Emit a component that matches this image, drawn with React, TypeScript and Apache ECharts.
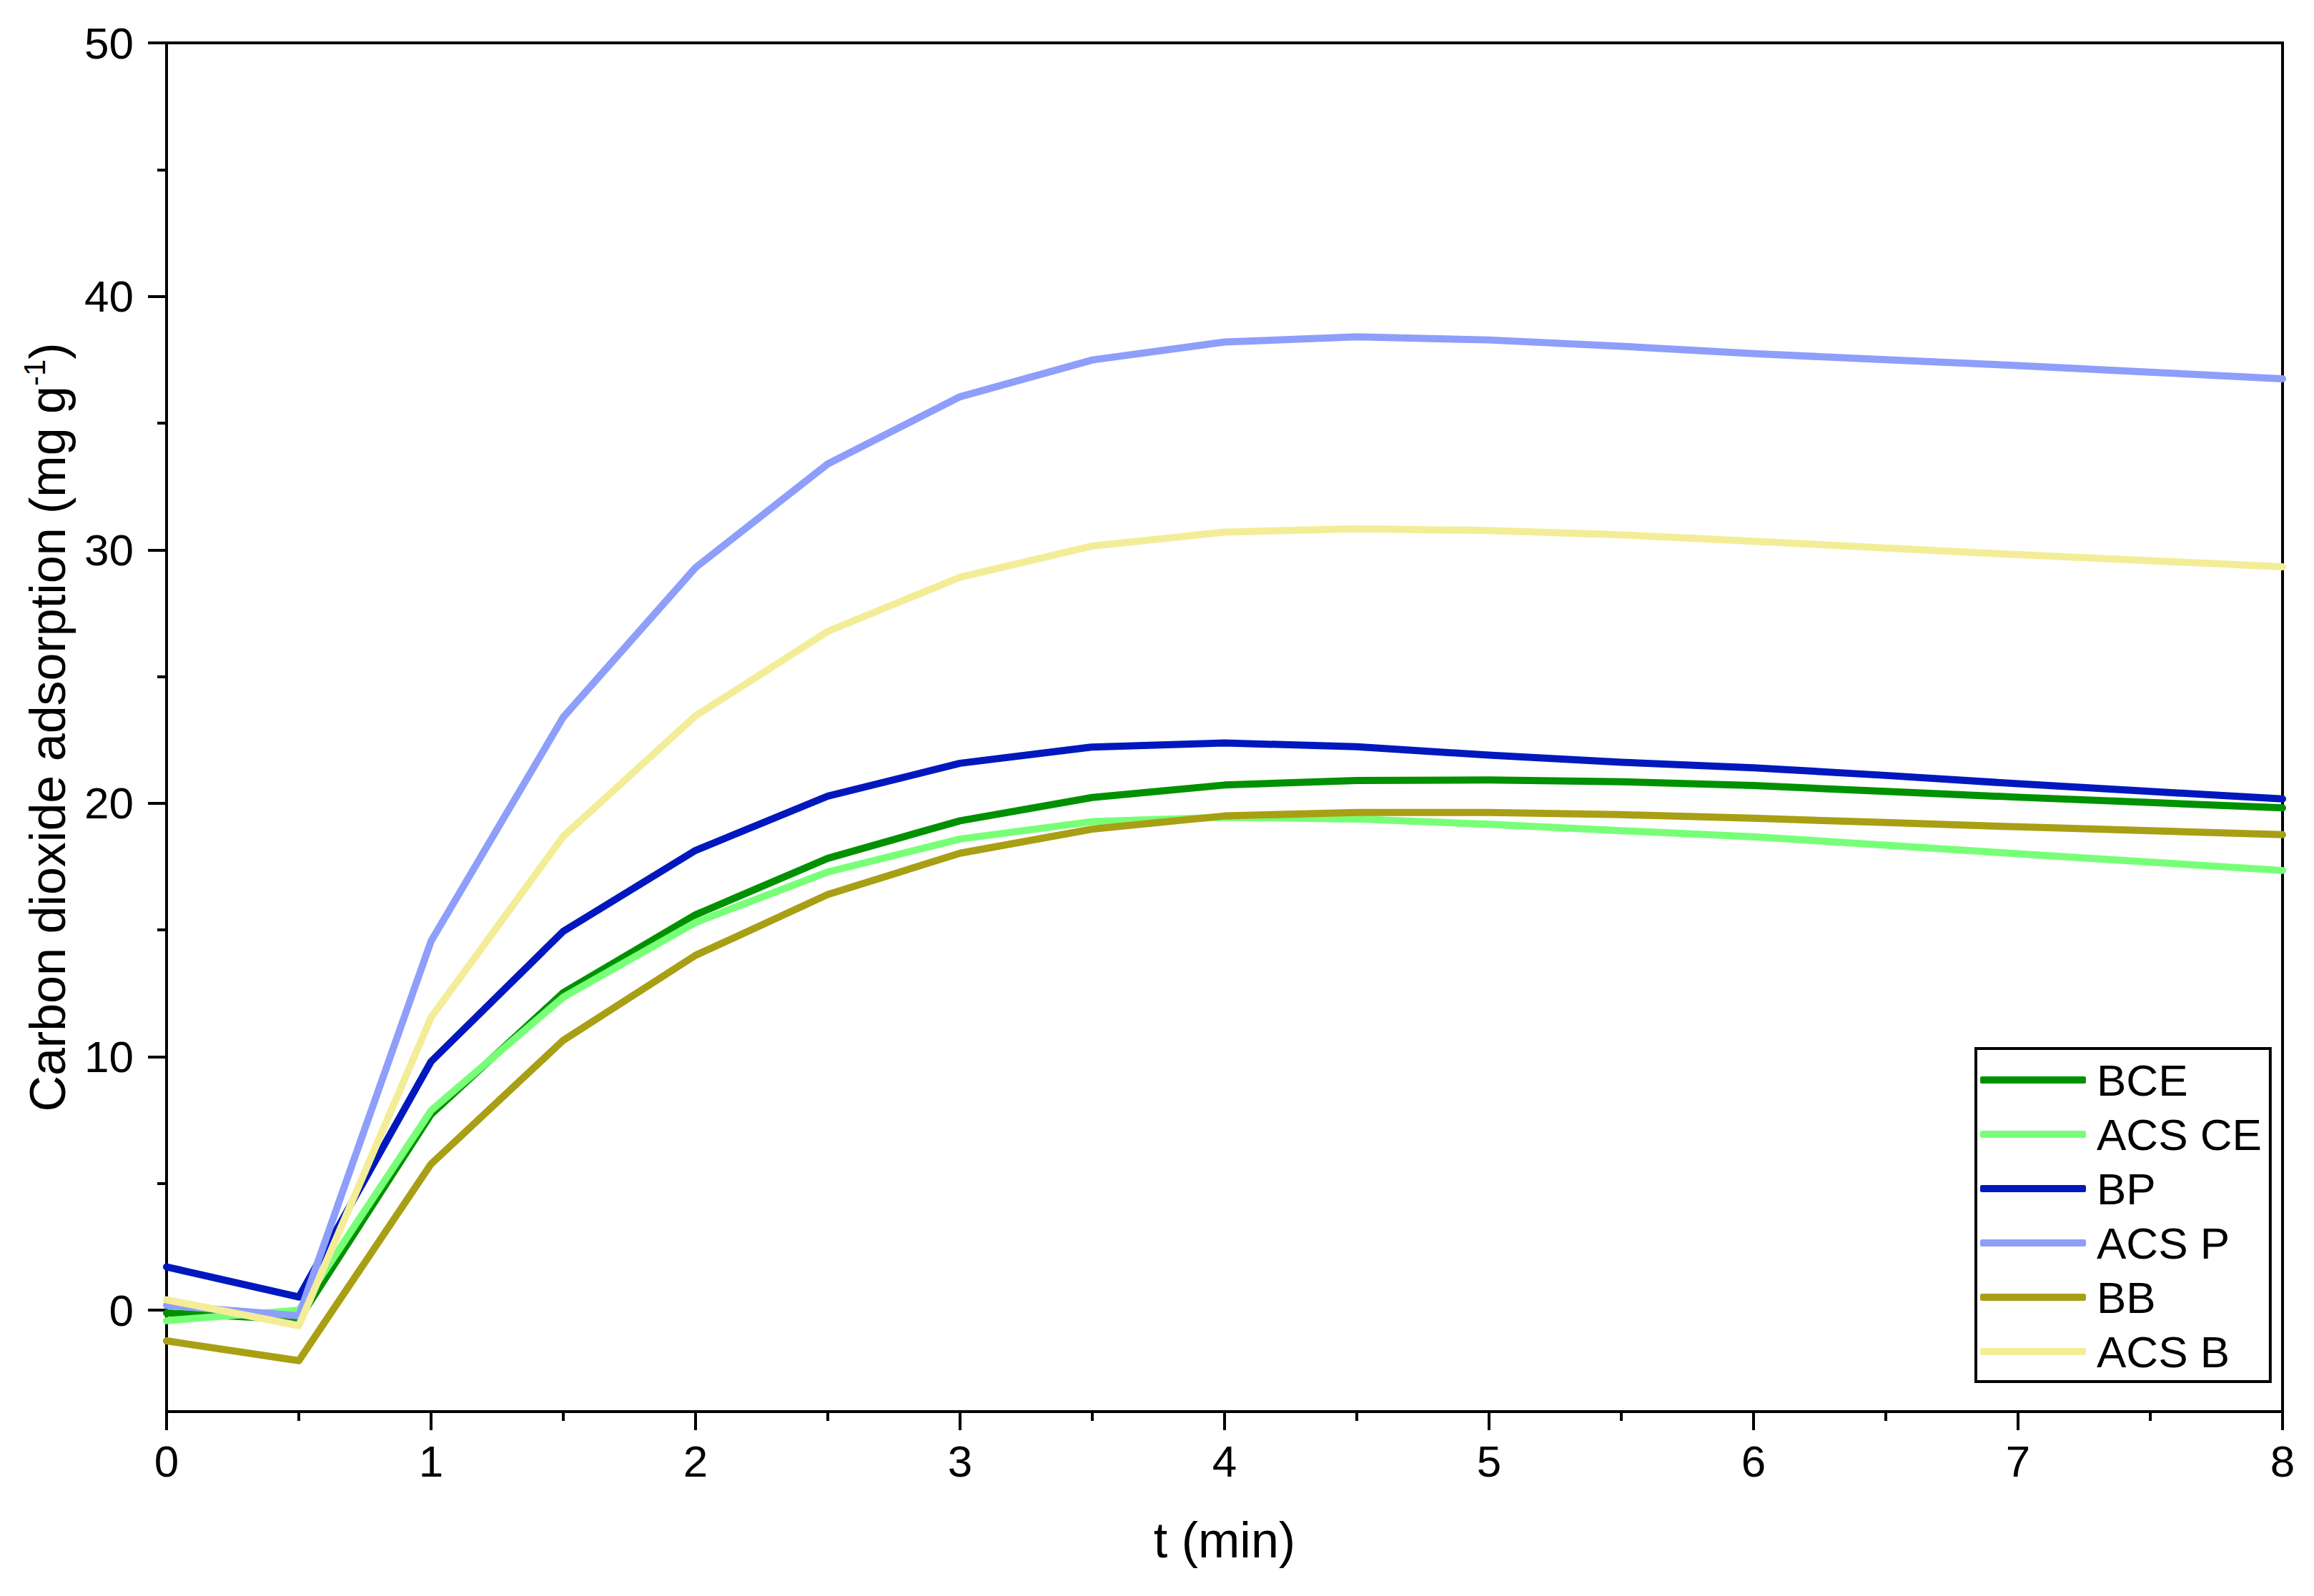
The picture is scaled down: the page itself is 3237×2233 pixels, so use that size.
import React, { useEffect, useRef } from "react";
import * as echarts from "echarts";

const tValues = [0, 0.5, 1, 1.5, 2, 2.5, 3, 3.5, 4, 4.5, 5, 5.5, 6, 6.5, 7, 7.5, 8];

const seriesNames = ["BCE", "ACS CE", "BP", "ACS P", "BB", "ACS B"];
const seriesColors = ["#009100", "#78FF78", "#0018BE", "#8E9EFB", "#A89F14", "#F3ED98"];

const bce = [-0.11, -0.37, 7.73, 12.53, 15.6, 17.83, 19.31, 20.23, 20.72, 20.9, 20.92, 20.85, 20.7, 20.47, 20.24, 20.03, 19.82];
const acsCe = [-0.41, 0.0, 7.88, 12.35, 15.3, 17.29, 18.59, 19.28, 19.45, 19.38, 19.17, 18.92, 18.68, 18.35, 18.01, 17.68, 17.35];
const bp = [1.71, 0.52, 9.81, 14.95, 18.14, 20.28, 21.58, 22.22, 22.38, 22.23, 21.9, 21.62, 21.4, 21.1, 20.77, 20.47, 20.17];
const acsP = [0.19, -0.22, 14.56, 23.4, 29.3, 33.39, 36.04, 37.49, 38.2, 38.4, 38.28, 38.03, 37.74, 37.5, 37.27, 37.01, 36.75];
const bb = [-1.21, -1.99, 5.77, 10.65, 14.0, 16.4, 18.03, 18.98, 19.5, 19.64, 19.64, 19.55, 19.41, 19.24, 19.07, 18.92, 18.76];
const acsB = [0.41, -0.61, 11.55, 18.7, 23.45, 26.78, 28.92, 30.15, 30.7, 30.83, 30.76, 30.59, 30.34, 30.07, 29.81, 29.57, 29.33];

const seriesValues = [bce, acsCe, bp, acsP, bb, acsB];

const yMajorTicks = [0, 10, 20, 30, 40, 50];
const yMinorTicks = [5, 15, 25, 35, 45];

const FONT = "Liberation Sans, Arial, sans-serif";

export default function App() {
  const ref = useRef<HTMLDivElement>(null);

  useEffect(() => {
    if (!ref.current) return;
    const chart = echarts.init(ref.current, null, { renderer: "svg" });
    const axisLineStyle = { color: "#000", width: 4 };
    const option = {
      animation: false,
      backgroundColor: "#fff",
      grid: {
        left: 233,
        top: 60,
        right: 44,
        bottom: 258,
        show: true,
        borderColor: "#000",
        borderWidth: 4,
        backgroundColor: "transparent",
      },
      legend: {
        orient: "vertical",
        left: 2764,
        top: 1467,
        padding: [13, 12, 11, 6],
        itemGap: 14,
        itemWidth: 148,
        itemHeight: 10,
        icon: "roundRect",
        borderColor: "#000",
        borderWidth: 4,
        backgroundColor: "#fff",
        textStyle: { fontSize: 62, color: "#000", fontFamily: FONT, padding: [0, 0, 0, 10] },
        data: seriesNames,
      },
      xAxis: {
        type: "value",
        min: 0,
        max: 8,
        interval: 1,
        name: "t (min)",
        nameLocation: "middle",
        nameGap: 145,
        nameTextStyle: { fontSize: 70, color: "#000", fontFamily: FONT },
        axisLine: { show: true, onZero: false, lineStyle: axisLineStyle },
        axisTick: { show: true, inside: false, length: 26, lineStyle: axisLineStyle },
        minorTick: { show: true, splitNumber: 2, length: 13, lineStyle: axisLineStyle },
        axisLabel: { fontSize: 62, color: "#000", fontFamily: FONT, margin: 38 },
        splitLine: { show: false },
        minorSplitLine: { show: false },
      },
      yAxis: [
        {
          type: "value",
          min: -4,
          max: 50,
          position: "left",
          name: "Carbon dioxide adsorption (mg g{sup|-1})",
          nameLocation: "middle",
          nameRotate: 90,
          nameGap: 122,
          nameTextStyle: {
            fontSize: 70,
            color: "#000",
            fontFamily: FONT,
            lineHeight: 80,
            rich: {
              sup: { fontSize: 42, fontFamily: FONT, color: "#000", verticalAlign: "top", lineHeight: 42 },
            },
          },
          axisLine: { show: true, onZero: false, lineStyle: axisLineStyle },
          axisTick: { show: true, inside: false, length: 26, lineStyle: axisLineStyle, customValues: yMajorTicks },
          axisLabel: { fontSize: 62, color: "#000", fontFamily: FONT, margin: 46, customValues: yMajorTicks },
          splitLine: { show: false },
        },
        {
          type: "value",
          min: -4,
          max: 50,
          position: "left",
          axisLine: { show: false },
          axisTick: { show: true, inside: false, length: 13, lineStyle: axisLineStyle, customValues: yMinorTicks },
          axisLabel: { show: false },
          splitLine: { show: false },
        },
      ],
      series: seriesNames.map((name, i) => ({
        name,
        type: "line",
        xAxisIndex: 0,
        yAxisIndex: 0,
        data: tValues.map((t, j) => [t, seriesValues[i][j]]),
        symbol: "none",
        showSymbol: false,
        smooth: false,
        color: seriesColors[i],
        itemStyle: { color: seriesColors[i] },
        lineStyle: { color: seriesColors[i], width: 10, cap: "round", join: "round" },
        z: 2 + i,
      })),
    };
    chart.setOption(option as any);
    return () => {
      chart.dispose();
    };
  }, []);

  return (
    <div
      ref={ref}
      style={{ position: "absolute", left: 0, top: 0, width: 3237, height: 2233, background: "#fff" }}
    />
  );
}
